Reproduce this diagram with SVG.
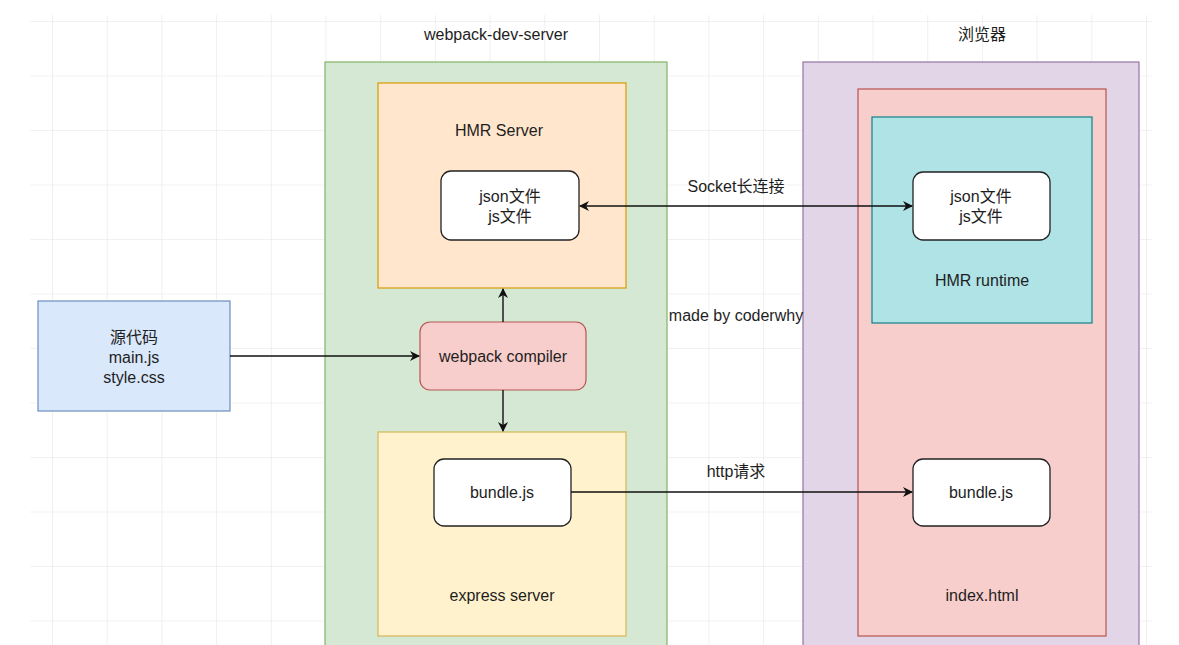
<svg xmlns="http://www.w3.org/2000/svg" width="1179" height="645" viewBox="0 0 1179 645">
<defs>
<pattern id="grid" x="52" y="21" width="54.7" height="54.5" patternUnits="userSpaceOnUse">
<path d="M0 0V54.5M0 0H54.7" fill="none" stroke="#e6e6e6" stroke-width="1.2"/>
</pattern>
<marker id="arr" viewBox="0 0 10 10" refX="9" refY="5" markerWidth="10" markerHeight="10" markerUnits="userSpaceOnUse" orient="auto-start-reverse">
<path d="M0 0L10 5L0 10L3 5Z" fill="#111"/>
</marker>
</defs>
<style>
text{font-family:"Liberation Sans",Arial,"Noto Sans CJK SC",sans-serif;font-size:16px;fill:#1e1e1e;text-anchor:middle}
.node{fill:#fff;stroke:#222;stroke-width:1.3}
.conn{stroke:#111;stroke-width:1.4;fill:none}
</style>
<rect width="1179" height="645" fill="#fff"/>
<rect x="30" y="15" width="1122" height="630" fill="url(#grid)"/>
<g id="webpack-dev-server">
<rect x="325" y="62" width="342" height="600" fill="#d5e8d4" stroke="#82b366" stroke-width="1.2"/>
<text x="496" y="40">webpack-dev-server</text>
</g>
<g id="browser">
<rect x="803" y="62" width="336" height="600" fill="#e1d5e7" stroke="#9673a6" stroke-width="1.2"/>
<text x="982" y="40">浏览器</text>
</g>
<g id="hmr-server">
<rect x="378" y="83" width="248" height="205" fill="#ffe6cc" stroke="#d79b00" stroke-width="1.2"/>
<text x="499" y="136">HMR Server</text>
</g>
<g id="express-server">
<rect x="378" y="432" width="248" height="204" fill="#fff2cc" stroke="#d6b656" stroke-width="1.2"/>
<text x="502" y="601">express server</text>
</g>
<g id="index-html">
<rect x="858" y="89" width="248" height="547" fill="#f8cecc" stroke="#b85450" stroke-width="1.2"/>
<text x="982" y="601">index.html</text>
</g>
<g id="hmr-runtime">
<rect x="872" y="117" width="220" height="206" fill="#b0e3e6" stroke="#0e8088" stroke-width="1.2"/>
<text x="982" y="286">HMR runtime</text>
</g>
<g id="source">
<rect x="38" y="301" width="192" height="110" fill="#dae8fc" stroke="#6c8ebf" stroke-width="1.2"/>
<text x="134" y="343">源代码</text>
<text x="134" y="363">main.js</text>
<text x="134" y="383">style.css</text>
</g>
<g id="webpack-compiler">
<rect x="420" y="322" width="166" height="68" rx="10" fill="#f8cecc" stroke="#b85450" stroke-width="1.2"/>
<text x="503" y="362">webpack compiler</text>
</g>
<g id="server-files">
<rect class="node" x="441" y="171" width="138" height="69" rx="10"/>
<text x="510" y="202">json文件</text>
<text x="510" y="222">js文件</text>
</g>
<g id="runtime-files">
<rect class="node" x="913" y="172" width="137" height="68" rx="10"/>
<text x="981" y="202">json文件</text>
<text x="981" y="222">js文件</text>
</g>
<g id="server-bundle">
<rect class="node" x="434" y="459" width="137" height="67" rx="10"/>
<text x="502" y="498">bundle.js</text>
</g>
<g id="browser-bundle">
<rect class="node" x="913" y="459" width="137" height="67" rx="10"/>
<text x="981" y="498">bundle.js</text>
</g>
<g id="connectors">
<path class="conn" d="M230 356H419" marker-end="url(#arr)"/>
<path class="conn" d="M503 322V289" marker-end="url(#arr)"/>
<path class="conn" d="M503 390V431" marker-end="url(#arr)"/>
<path class="conn" d="M580 206H912" marker-start="url(#arr)" marker-end="url(#arr)"/>
<path class="conn" d="M571 492H912" marker-end="url(#arr)"/>
<text x="736" y="192">Socket长连接</text>
<text x="736" y="477">http请求</text>
</g>
<text x="736" y="321">made by coderwhy</text>
</svg>
